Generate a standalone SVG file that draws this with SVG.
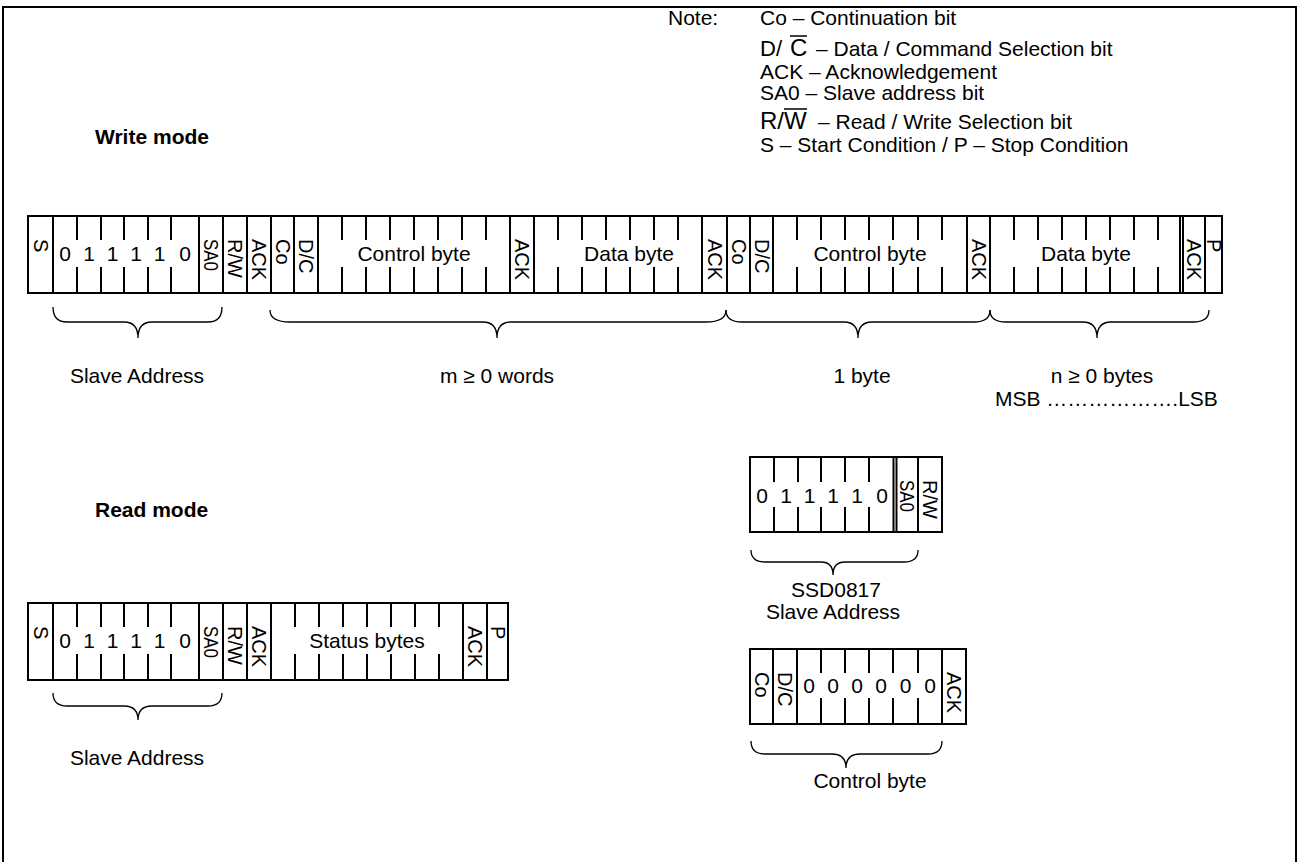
<svg xmlns="http://www.w3.org/2000/svg" width="1298" height="862" viewBox="0 0 1298 862">
<style>
.ln{fill:none;stroke:#000;stroke-width:2}
.br{fill:none;stroke:#000;stroke-width:1.3}
.ob{fill:none;stroke:#000;stroke-width:1.5}
text{font-family:"Liberation Sans",Arial,sans-serif;fill:#000}
.t{font-size:21px}
.c{font-size:21px;text-anchor:middle}
.v{font-size:20px}
.b{font-size:21px;font-weight:bold}
.big{font-size:24px}
</style>
<rect x="0" y="0" width="1298" height="862" fill="#fff"/>
<rect class="ln" x="3" y="7" width="1293" height="900"/>

<g id="notes">
<text class="t" x="668" y="25">Note:</text>
<text class="t" x="760" y="25">Co – Continuation bit</text>
<text class="t" x="760" y="56" style="font-size:22px">D/</text>
<text class="big" x="790" y="56">C</text>
<path class="ob" d="M790 36H807"/>
<text class="t" x="816" y="56">– Data / Command Selection bit</text>
<text class="t" x="760" y="79">ACK – Acknowledgement</text>
<text class="t" x="760" y="100">SA0 – Slave address bit</text>
<text class="big" x="760" y="129">R/W</text>
<path class="ob" d="M784 109H807"/>
<text class="t" x="818" y="129">– Read / Write Selection bit</text>
<text class="t" x="760" y="152">S – Start Condition / P – Stop Condition</text>
</g>

<g id="titles">
<text class="b" x="95" y="144">Write mode</text>
<text class="b" x="95" y="517">Read mode</text>
</g>

<g id="write-frame">
<rect class="ln" x="28" y="216" width="1194" height="77"/>
<path class="ln" d="M53 216V293M199 216V293M223 216V293M247 216V293M271 216V293M294 216V293M318 216V293M510 216V293M534 216V293M702 216V293M727 216V293M750 216V293M773 216V293M967 216V293M990 216V293M1180 216V293M1183 216V293M1205 216V293"/>
<path class="ln" d="M77 216V240M77 267V293M101 216V240M101 267V293M124 216V240M124 267V293M148 216V240M148 267V293M171 216V240M171 267V293M342 216V240M342 267V293M366 216V240M366 267V293M390 216V240M390 267V293M414 216V240M414 267V293M438 216V240M438 267V293M462 216V240M462 267V293M486 216V240M486 267V293M558 216V240M558 267V293M582 216V240M582 267V293M606 216V240M606 267V293M630 216V240M630 267V293M654 216V240M654 267V293M678 216V240M678 267V293M797 216V240M797 267V293M821 216V240M821 267V293M845 216V240M845 267V293M869 216V240M869 267V293M893 216V240M893 267V293M918 216V240M918 267V293M942 216V240M942 267V293M1014 216V240M1014 267V293M1038 216V240M1038 267V293M1062 216V240M1062 267V293M1086 216V240M1086 267V293M1110 216V240M1110 267V293M1134 216V240M1134 267V293M1158 216V240M1158 267V293"/>
<text class="v" transform="translate(40.5 239) rotate(90)" y="7">S</text>
<text class="c" x="65" y="261">0</text>
<text class="c" x="89" y="261">1</text>
<text class="c" x="112.5" y="261">1</text>
<text class="c" x="136" y="261">1</text>
<text class="c" x="159.5" y="261">1</text>
<text class="c" x="185" y="261">0</text>
<text class="v" transform="translate(211 239) rotate(90)" y="7" textLength="32" lengthAdjust="spacingAndGlyphs">SA0</text>
<text class="v" transform="translate(235 239) rotate(90)" y="7">R/W</text>
<text class="v" transform="translate(259 239) rotate(90)" y="7">ACK</text>
<text class="v" transform="translate(282.5 239) rotate(90)" y="7">Co</text>
<text class="v" transform="translate(306 239) rotate(90)" y="7">D/C</text>
<text class="c" x="414" y="261">Control byte</text>
<text class="v" transform="translate(522 239) rotate(90)" y="7">ACK</text>
<text class="c" x="629" y="261">Data byte</text>
<text class="v" transform="translate(714.5 239) rotate(90)" y="7">ACK</text>
<text class="v" transform="translate(738.5 239) rotate(90)" y="7">Co</text>
<text class="v" transform="translate(761.5 239) rotate(90)" y="7">D/C</text>
<text class="c" x="870" y="261">Control byte</text>
<text class="v" transform="translate(978.5 239) rotate(90)" y="7">ACK</text>
<text class="c" x="1086" y="261">Data byte</text>
<text class="v" transform="translate(1193.5 239) rotate(90)" y="7">ACK</text>
<text class="v" transform="translate(1213.5 239) rotate(90)" y="7">P</text>
</g>

<g id="read-frame" transform="translate(0 387)">
<rect class="ln" x="28" y="216" width="480" height="77"/>
<path class="ln" d="M53 216V293M199 216V293M223 216V293M247 216V293M271 216V293M463 216V293M487 216V293"/>
<path class="ln" d="M77 216V240M77 267V293M101 216V240M101 267V293M124 216V240M124 267V293M148 216V240M148 267V293M171 216V240M171 267V293M295 216V240M295 267V293M319 216V240M319 267V293M343 216V240M343 267V293M367 216V240M367 267V293M391 216V240M391 267V293M415 216V240M415 267V293M439 216V240M439 267V293"/>
<text class="v" transform="translate(40.5 239) rotate(90)" y="7">S</text>
<text class="c" x="65" y="261">0</text>
<text class="c" x="89" y="261">1</text>
<text class="c" x="112.5" y="261">1</text>
<text class="c" x="136" y="261">1</text>
<text class="c" x="159.5" y="261">1</text>
<text class="c" x="185" y="261">0</text>
<text class="v" transform="translate(211 239) rotate(90)" y="7" textLength="32" lengthAdjust="spacingAndGlyphs">SA0</text>
<text class="v" transform="translate(235 239) rotate(90)" y="7">R/W</text>
<text class="v" transform="translate(259 239) rotate(90)" y="7">ACK</text>
<text class="c" x="367" y="261">Status bytes</text>
<text class="v" transform="translate(475 239) rotate(90)" y="7">ACK</text>
<text class="v" transform="translate(497.5 239) rotate(90)" y="7">P</text>
</g>

<g id="ssd-address-frame">
<rect class="ln" x="750" y="457" width="192" height="75"/>
<path class="ln" d="M918 457V532M893.5 457V532M896.5 457V532"/>
<path class="ln" d="M774 457V482M774 507V532M798 457V482M798 507V532M821 457V482M821 507V532M845 457V482M845 507V532M869 457V482M869 507V532"/>
<text class="c" x="762" y="503">0</text>
<text class="c" x="786" y="503">1</text>
<text class="c" x="809.5" y="503">1</text>
<text class="c" x="833" y="503">1</text>
<text class="c" x="857" y="503">1</text>
<text class="c" x="882" y="503">0</text>
<text class="v" transform="translate(907 480) rotate(90)" y="7" textLength="32" lengthAdjust="spacingAndGlyphs">SA0</text>
<text class="v" transform="translate(930 480) rotate(90)" y="7">R/W</text>
</g>

<g id="control-byte-frame">
<rect class="ln" x="750" y="649" width="216" height="75"/>
<path class="ln" d="M773 649V724M797 649V724M942 649V724"/>
<path class="ln" d="M821 649V673M821 698V724M845 649V673M845 698V724M869 649V673M869 698V724M893 649V673M893 698V724M918 649V673M918 698V724"/>
<text class="v" transform="translate(761.5 672) rotate(90)" y="7">Co</text>
<text class="v" transform="translate(785 672) rotate(90)" y="7">D/C</text>
<text class="c" x="809" y="693">0</text>
<text class="c" x="833" y="693">0</text>
<text class="c" x="857" y="693">0</text>
<text class="c" x="881" y="693">0</text>
<text class="c" x="905.5" y="693">0</text>
<text class="c" x="930" y="693">0</text>
<text class="v" transform="translate(954 672) rotate(90)" y="7">ACK</text>
</g>

<g id="braces">
<path class="br" d="M53 307Q53 322 67 322L124 322Q138 322 138 338Q138 322 152 322L208 322Q222 322 222 307"/>
<path class="br" d="M270 310Q270 322 290 322L483 322Q497 322 497 338Q497 322 511 322L706 322Q726 322 726 310"/>
<path class="br" d="M726 310Q726 322 742 322L844 322Q858 322 858 338Q858 322 872 322L974 322Q990 322 990 310"/>
<path class="br" d="M990 310Q990 322 1006 322L1083 322Q1097 322 1097 338Q1097 322 1111 322L1193 322Q1209 322 1209 310"/>
<path class="br" d="M751 550Q751 562 765 562L821 562Q833 562 833 575Q833 562 845 562L904 562Q918 562 918 550"/>
<path class="br" d="M53 693Q53 706 67 706L124 706Q138 706 138 720Q138 706 152 706L208 706Q222 706 222 693"/>
<path class="br" d="M751 741Q751 754 765 754L832 754Q846 754 846 768Q846 754 860 754L928 754Q942 754 942 741"/>
</g>

<g id="labels">
<text class="c" x="137" y="383">Slave Address</text>
<text class="c" x="497" y="383">m ≥ 0 words</text>
<text class="c" x="862" y="383">1 byte</text>
<text class="c" x="1102" y="383">n ≥ 0 bytes</text>
<text class="t" x="995" y="406">MSB ……………….LSB</text>
<text class="c" x="836" y="597">SSD0817</text>
<text class="c" x="833" y="619">Slave Address</text>
<text class="c" x="137" y="765">Slave Address</text>
<text class="c" x="870" y="788">Control byte</text>
</g>
</svg>
